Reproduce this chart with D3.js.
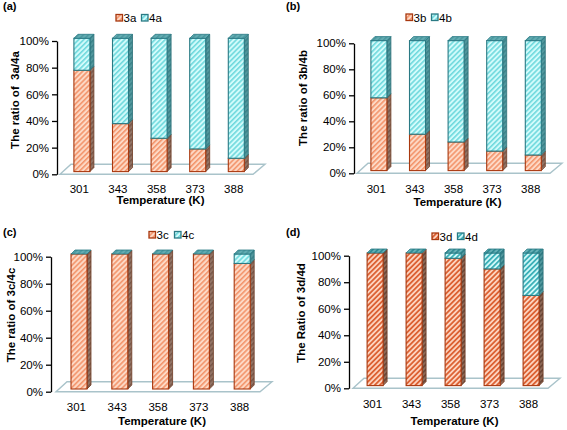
<!DOCTYPE html>
<html><head><meta charset="utf-8">
<script src="https://cdn.jsdelivr.net/npm/d3@7"></script>
<style>
body{margin:0;background:#fff;}
svg text{font-family:"Liberation Sans",Arial,sans-serif;}
</style></head>
<body><svg id="c" width="567" height="430"></svg>
<script>
// ---------- data ----------
const temperatures = ["301","343","358","373","388"];
const ratio3a = [76,36,25,17,10];
const ratio4a = [24,64,75,83,90];
const ratio3b = [56,28,22,15,12];
const ratio4b = [44,72,78,85,88];
const ratio3c = [100,100,100,100,93];
const ratio4c = [0,0,0,0,7];
const ratio3d = [100,100,96,88,68];
const ratio4d = [0,0,4,12,32];
const yTickValues = [0,20,40,60,80,100];
const panelLabels = ["(a)","(b)","(c)","(d)"];
const seriesNames = [["3a","4a"],["3b","4b"],["3c","4c"],["3d","4d"]];
const yTitles = ["The ratio of  3a/4a","The ratio of 3b/4b","The ratio of 3c/4c","The Ratio of 3d/4d"];
const xTitle = "Temperature (K)";

// ---------- layout ----------
const panels = [
  {lab:[3,10], axisX:57, yTop:41, yBot:174.3, x0:60, x1:253, legX:116, legY:18, yTitleX:15, yTitleY:100, tickY:192.5, titleY:204, v3:ratio3a, v4:ratio4a, wide:false},
  {lab:[286,10], axisX:354, yTop:43.3, yBot:173.3, x0:357, x1:550, legX:406, legY:17.5, yTitleX:303, yTitleY:98, tickY:192.5, titleY:205.5, v3:ratio3b, v4:ratio4b, wide:false},
  {lab:[3,236], axisX:51, yTop:256.7, yBot:391.7, x0:56, x1:260, legX:149, legY:235, yTitleX:11, yTitleY:315, tickY:411, titleY:425, v3:ratio3c, v4:ratio4c, wide:false},
  {lab:[286,236], axisX:349, yTop:255.7, yBot:388.3, x0:353, x1:548, legX:432, legY:236.5, yTitleX:301, yTitleY:313, tickY:408, titleY:425, v3:ratio3d, v4:ratio4d, wide:true}
];

const svg = d3.select("#c");
const defs = svg.append("defs");
function mkPattern(id, bg, fg, w, size){
  const p = defs.append("pattern").attr("id",id).attr("patternUnits","userSpaceOnUse")
    .attr("width",size).attr("height",size).attr("patternTransform","rotate(45)");
  p.append("rect").attr("width",size).attr("height",size).attr("fill",bg);
  p.append("rect").attr("x",0).attr("y",0).attr("width",w).attr("height",size).attr("fill",fg);
}
mkPattern("o_l","#fdd9c6","#f3956c",1.6,3.6);
mkPattern("c_l","#d2fbfb","#6fd9dd",1.6,3.6);
mkPattern("os_l","#937465","#775648",1.5,3.6);
mkPattern("cs_l","#52989e","#3a8188",1.5,3.6);
mkPattern("o_w","#fdd3bf","#dc6234",1.8,3.6);
mkPattern("c_w","#cff8f8","#3cb0b8",1.8,3.6);
mkPattern("os_w","#8f6a58","#6a4636",1.7,3.6);
mkPattern("cs_w","#52989e","#2f7a82",1.7,3.6);
mkPattern("ct_l","#63acb2","#4a979e",1.5,3.6);
mkPattern("ct_w","#66b0b6","#2f8a92",1.7,3.6);

const stroke3 = "#a8380f", stroke4 = "#2a7a84";
const sideStroke3 = "#6e3a22", sideStroke4 = "#2a6e76";
const dX = 4, dY = 4, bw = 16, shift = 2.6, lift = 2.7;

panels.forEach((P, pi) => {
  const g = svg.append("g");
  const suf = P.wide ? "_w" : "_l";
  const y = d3.scaleLinear().domain([0,100]).range([P.yBot, P.yTop]);
  const x = d3.scaleBand().domain(temperatures).range([P.x0, P.x1]);

  g.append("text").attr("x",P.lab[0]).attr("y",P.lab[1]).attr("font-size",11).attr("font-weight","bold").text(panelLabels[pi]);

  // floor
  const fd = 11, fh = 10;
  g.append("path").attr("d",`M${P.x0},${P.yBot}L${P.x0+fd},${P.yBot-fh}L${P.x1+fd+1},${P.yBot-fh}L${P.x1},${P.yBot}Z`)
    .attr("fill","#fff").attr("stroke","#a9c3ca").attr("stroke-width",1.4);

  // y axis
  const ax = d3.axisLeft(y).tickValues(yTickValues).tickFormat(d => d + "%").tickSize(5).tickSizeOuter(0);
  const axG = g.append("g").attr("transform",`translate(${P.axisX},0)`).call(ax);
  axG.select(".domain").attr("stroke","#000").attr("stroke-width",1.3);
  axG.selectAll(".tick line").attr("stroke","#000").attr("stroke-width",1.3);
  axG.selectAll(".tick text").attr("font-size",11.5).attr("fill","#000").attr("x",-8)
     .attr("font-family","'Liberation Sans',Arial,sans-serif");

  // x tick labels
  g.selectAll(".xl").data(temperatures).enter().append("text")
    .attr("x", d => x(d) + x.bandwidth()/2).attr("y", P.tickY)
    .attr("text-anchor","middle").attr("font-size",11.5).text(d => d);

  // titles
  g.append("text").attr("x",(P.x0+P.x1)/2 + 4).attr("y",P.titleY).attr("text-anchor","middle")
    .attr("font-size",11.5).attr("font-weight","bold").text(xTitle);
  g.append("text").attr("transform",`translate(${P.yTitleX},${P.yTitleY}) rotate(-90)`)
    .attr("text-anchor","middle").attr("dominant-baseline","central")
    .attr("font-size",11.5).attr("font-weight","bold").style("white-space","pre").text(yTitles[pi]);

  // bars
  temperatures.forEach((t, i) => {
    const xl = x(t) + x.bandwidth()/2 + shift - bw/2, xr = xl + bw;
    const segs = [
      {lo:0, hi:P.v3[i], front:"o"+suf, side:"os"+suf, st:stroke3, ss:sideStroke3},
      {lo:P.v3[i], hi:P.v3[i]+P.v4[i], front:"c"+suf, side:"cs"+suf, st:stroke4, ss:sideStroke4}
    ];
    segs.forEach(s => {
      if (s.hi - s.lo <= 0) return;
      const yt = y(s.hi) - lift, yb = y(s.lo) - lift;
      g.append("path").attr("d",`M${xr},${yb}L${xr+dX},${yb-dY}L${xr+dX},${yt-dY}L${xr},${yt}Z`)
        .attr("fill",`url(#${s.side})`).attr("stroke",s.ss).attr("stroke-width",0.8);
      g.append("rect").attr("x",xl).attr("y",yt).attr("width",bw).attr("height",yb-yt)
        .attr("fill",`url(#${s.front})`).attr("stroke",s.st).attr("stroke-width",1.1);
    });
    const ytop = y(P.v3[i]+P.v4[i]) - lift;
    g.append("path").attr("d",`M${xl},${ytop}L${xl+dX},${ytop-dY}L${xr+dX},${ytop-dY}L${xr},${ytop}Z`)
      .attr("fill",`url(#ct${suf})`).attr("stroke",stroke4).attr("stroke-width",0.8);
  });

  // legend
  const lg = g.append("g").attr("transform",`translate(${P.legX},${P.legY})`);
  [0,1].forEach(k => {
    const ox = k * 25.5;
    lg.append("rect").attr("x",ox).attr("y",-3.5).attr("width",6.5).attr("height",6.5)
      .attr("fill",`url(#${k===0?"o":"c"}${suf})`).attr("stroke",k===0?stroke3:stroke4).attr("stroke-width",1.3);
    lg.append("text").attr("x",ox+7.5).attr("y",4.3).attr("font-size",11.5).text(seriesNames[pi][k]);
  });
});
</script></body></html>
